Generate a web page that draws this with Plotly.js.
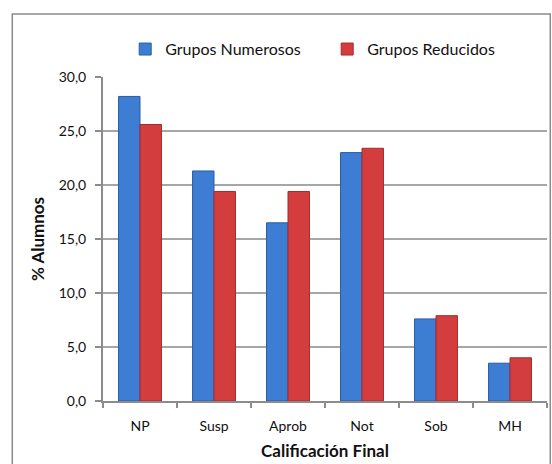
<!DOCTYPE html>
<html>
<head>
<meta charset="utf-8">
<script src="https://cdn.plot.ly/plotly-3.0.1.min.js"></script>
<style>
html,body{margin:0;padding:0;background:#fff;}
#chart{width:552px;height:464px;}
</style>
</head>
<body>
<div id="chart"></div>
<script>
var categories = ['NP', 'Susp', 'Aprob', 'Not', 'Sob', 'MH'];
var grupoNumerosos = [28.2, 21.3, 16.5, 23.0, 7.6, 3.5];
var grupoReducidos = [25.6, 19.4, 19.4, 23.4, 7.9, 4.0];
var seriesNames = ['Grupos Numerosos', 'Grupos Reducidos'];
var yTicks = [0, 5, 10, 15, 20, 25, 30];

var FONT = 'Lato, "Open Sans", sans-serif';

var traces = [
  {
    type: 'bar', name: seriesNames[0], x: categories, y: grupoNumerosos,
    marker: {color: '#3D7DD3', line: {color: '#2B5E9F', width: 1}},
    hoverinfo: 'x+y'
  },
  {
    type: 'bar', name: seriesNames[1], x: categories, y: grupoReducidos,
    marker: {color: '#D43D3D', line: {color: '#A52B2B', width: 1}},
    hoverinfo: 'x+y'
  }
];

var layout = {
  width: 552, height: 464,
  margin: {l: 103, r: 5, t: 77, b: 63},
  paper_bgcolor: '#ffffff', plot_bgcolor: '#ffffff',
  separators: ',.',
  font: {family: FONT, color: '#222', size: 14},
  barmode: 'group', bargap: 0.42, bargroupgap: 0,
  showlegend: true,
  legend: {
    orientation: 'h', x: 0.05, y: 1.086, xanchor: 'left', yanchor: 'middle',
    font: {family: FONT, size: 16, color: '#111'},
    itemwidth: 30, entrywidth: 157, entrywidthmode: 'pixels',
    bgcolor: 'rgba(0,0,0,0)'
  },
  xaxis: {
    type: 'category',
    title: {text: '<b>Calificación Final</b>', font: {family: FONT, size: 17, color: '#111'}, standoff: 12},
    showline: true, linecolor: '#8c8c8c', linewidth: 2,
    ticks: 'outside', ticklen: 5, tickcolor: '#8c8c8c', tickwidth: 1.5,
    tickson: 'boundaries', ticklabelstandoff: 11,
    tickfont: {family: FONT, size: 14, color: '#111'},
    showgrid: false, zeroline: false
  },
  yaxis: {
    range: [0, 30],
    tickvals: yTicks, tickformat: '.1f',
    title: {text: '<b>% Alumnos</b>', font: {family: FONT, size: 17, color: '#111'}, standoff: 10},
    showline: true, linecolor: '#8c8c8c', linewidth: 2,
    ticks: 'outside', ticklen: 6, tickcolor: '#8c8c8c', tickwidth: 1.5,
    ticklabelstandoff: 6,
    tickfont: {family: FONT, size: 14, color: '#111'},
    showgrid: true, gridcolor: '#a6a6a6', gridwidth: 1.5,
    zeroline: false
  },
  shapes: [{
    type: 'rect', xref: 'paper', yref: 'paper',
    x0: -0.2043, x1: 1.0074, y0: -0.3, y1: 1.1944,
    line: {color: '#8a8a8a', width: 1.5}, layer: 'below'
  }]
};

Plotly.newPlot('chart', traces, layout, {displayModeBar: false, staticPlot: true});
</script>
</body>
</html>
